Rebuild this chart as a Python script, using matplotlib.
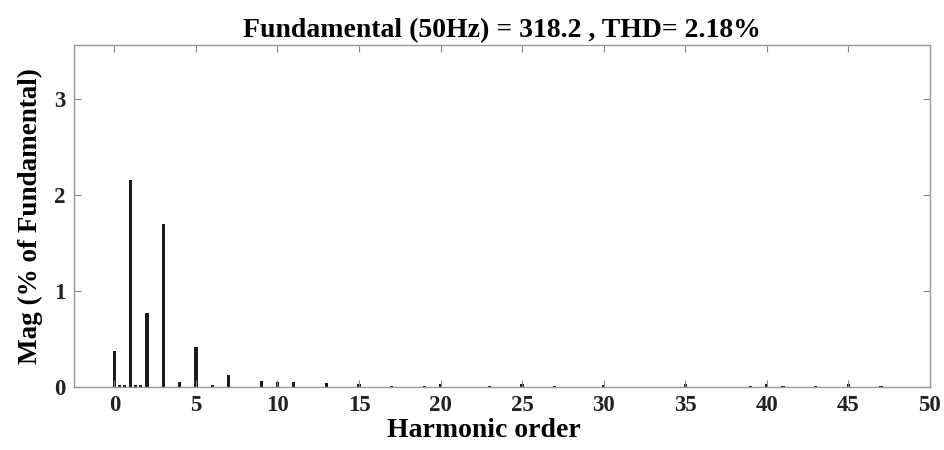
import matplotlib
matplotlib.use("Agg")
import matplotlib.pyplot as plt

plt.rcParams['font.family'] = ['Liberation Serif', 'DejaVu Serif']
plt.rcParams['font.weight'] = 'bold'

# harmonic spectrum (% of fundamental)
orders = [0, 0.3, 0.6, 1, 1.3, 1.6, 2, 3, 4, 5, 6, 7, 9, 10, 11, 13, 15, 17, 19, 20,
          23, 25, 27, 30, 35, 39, 40, 41, 43, 45, 47]
mags = [0.37, 0.02, 0.02, 2.15, 0.02, 0.02, 0.77, 1.70, 0.05, 0.42, 0.02, 0.12, 0.06, 0.05, 0.05,
        0.04, 0.03, 0.01, 0.01, 0.03, 0.01, 0.03, 0.01, 0.02, 0.03, 0.01, 0.03, 0.01,
        0.01, 0.03, 0.01]
xticks = list(range(0, 51, 5))
yticks = [0, 1, 2, 3]

fig = plt.figure(figsize=(9.44, 4.5), dpi=100)
ax = fig.add_axes([0.078, 0.14, 0.907, 0.76])
ax.bar(orders, mags, width=0.2, color='#1a1a1a')

ax.set_xlim(-2.5, 50)
ax.set_ylim(0, 3.56)
ax.set_xticks(xticks)
ax.set_yticks(yticks)
ax.tick_params(direction='in', top=True, right=True, length=5, width=0.8,
               colors='#888888', labelcolor='#222222', labelsize=16.5, pad=6)
for lab in ax.get_xticklabels() + ax.get_yticklabels():
    lab.set_fontweight('bold')
for s in ax.spines.values():
    s.set_color('#999999')
    s.set_linewidth(1.0)

ax.set_title('Fundamental (50Hz) = 318.2 , THD= 2.18%', fontsize=20, fontweight='bold', pad=6)
ax.set_xlabel('Harmonic order', fontsize=20, fontweight='bold')
ax.xaxis.set_label_coords(0.479, -0.09)
ax.set_ylabel('Mag (% of Fundamental)', fontsize=19.5, fontweight='bold', labelpad=8)

fig.savefig('out.png', dpi=100)
